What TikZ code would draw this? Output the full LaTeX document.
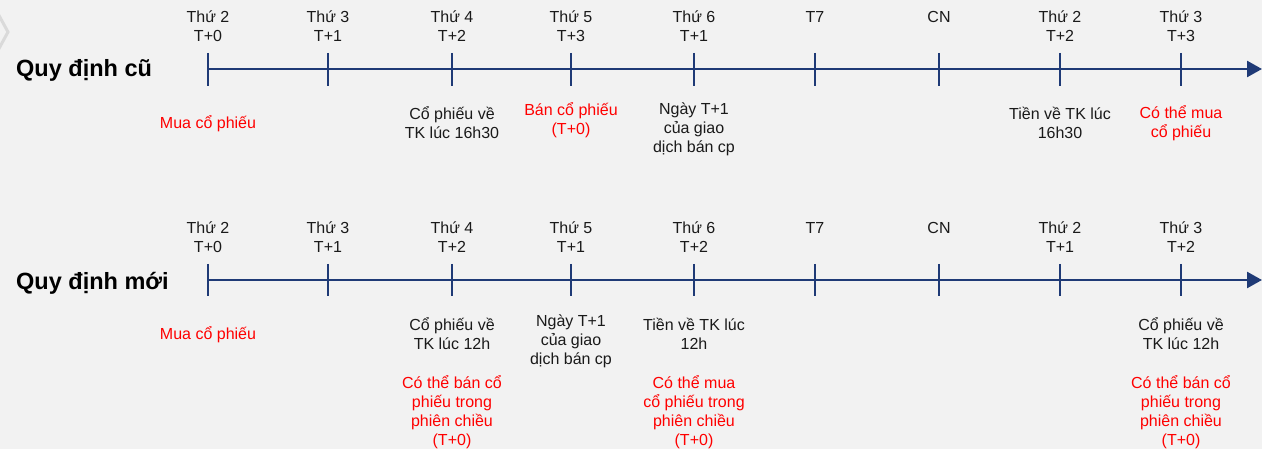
\documentclass[tikz,border=0pt]{standalone}
\usepackage{fontspec}
\setmainfont{Liberation Sans}
\usetikzlibrary{arrows.meta}
\definecolor{bg}{HTML}{F2F2F2}
\definecolor{axis}{RGB}{31,58,118}
\definecolor{ink}{HTML}{1A1A1A}
\definecolor{alert}{HTML}{FF0000}
\definecolor{ghost}{HTML}{DADADA}
\begin{document}
\begin{tikzpicture}[x=1pt,y=-1pt,
  lbl/.style={font=\fontsize{16}{18.8}\selectfont, text=ink, align=center, inner sep=0pt},
  warn/.style={lbl, text=alert},
  heading/.style={font=\fontsize{23.5}{28}\selectfont\bfseries, text=black, anchor=west, inner sep=0pt},
  axisline/.style={draw=axis, line width=2.6pt, -{Triangle[length=15pt,width=16pt]}},
  tickmark/.style={draw=axis, line width=2.4pt}]

% canvas
\fill[bg] (0,0) rectangle (1262,449);
\useasboundingbox (0,0) rectangle (1262,449);

% faint chevron at the left edge
\draw[ghost, line width=3pt] (-4,10) -- (8,32) -- (-4,54);

% ---------- old rule ----------
\node[heading] (t1) at (16,70) {Quy định cũ};
\coordinate (s1) at (208,69);
\coordinate (e1) at (1262,69);
\draw[axisline] (s1) -- (e1);
\foreach \x in {208,328,452,571,694,815,939,1060,1181}
  \draw[tickmark] (\x,53) -- (\x,86);

\foreach \x/\t [count=\i] in {208/{Thứ 2\\T+0},328/{Thứ 3\\T+1},452/{Thứ 4\\T+2},
    571/{Thứ 5\\T+3},694/{Thứ 6\\T+1},1060/{Thứ 2\\T+2},1181/{Thứ 3\\T+3}}
  \node[lbl] (d1-\i) at (\x,26.5) {\t};
\node[lbl] (d1-t7) at (815,17) {T7};
\node[lbl] (d1-cn) at (939,17) {CN};

\node[warn] (o1) at (208,123.5) {Mua cổ phiếu};
\node[lbl]  (o2) at (452,123) {Cổ phiếu về\\TK lúc 16h30};
\node[warn] (o3) at (571,120) {Bán cổ phiếu\\(T+0)};
\node[lbl]  (o4) at (694,129) {Ngày T+1\\của giao\\dịch bán cp};
\node[lbl]  (o5) at (1060,123) {Tiền về TK lúc\\16h30};
\node[warn] (o6) at (1181,123) {Có thể mua\\cổ phiếu};

% ---------- new rule ----------
\node[heading] (t2) at (16,283) {Quy định mới};
\coordinate (s2) at (208,280);
\coordinate (e2) at (1262,280);
\draw[axisline] (s2) -- (e2);
\foreach \x in {208,328,452,571,694,815,939,1060,1181}
  \draw[tickmark] (\x,264) -- (\x,296);

\foreach \x/\t [count=\i] in {208/{Thứ 2\\T+0},328/{Thứ 3\\T+1},452/{Thứ 4\\T+2},
    571/{Thứ 5\\T+1},694/{Thứ 6\\T+2},1060/{Thứ 2\\T+1},1181/{Thứ 3\\T+2}}
  \node[lbl] (d2-\i) at (\x,237.5) {\t};
\node[lbl] (d2-t7) at (815,228) {T7};
\node[lbl] (d2-cn) at (939,228) {CN};

\node[warn] (n1) at (208,334.5) {Mua cổ phiếu};
\node[lbl]  (n2) at (452,334) {Cổ phiếu về\\TK lúc 12h};
\node[warn] (n3) at (452,412) {Có thể bán cổ\\phiếu trong\\phiên chiều\\(T+0)};
\node[lbl]  (n4) at (571,341) {Ngày T+1\\của giao\\dịch bán cp};
\node[lbl]  (n5) at (694,334) {Tiền về TK lúc\\12h};
\node[warn] (n6) at (694,412) {Có thể mua\\cổ phiếu trong\\phiên chiều\\(T+0)};
\node[lbl]  (n7) at (1181,334) {Cổ phiếu về\\TK lúc 12h};
\node[warn] (n8) at (1181,412) {Có thể bán cổ\\phiếu trong\\phiên chiều\\(T+0)};
\end{tikzpicture}
\end{document}
